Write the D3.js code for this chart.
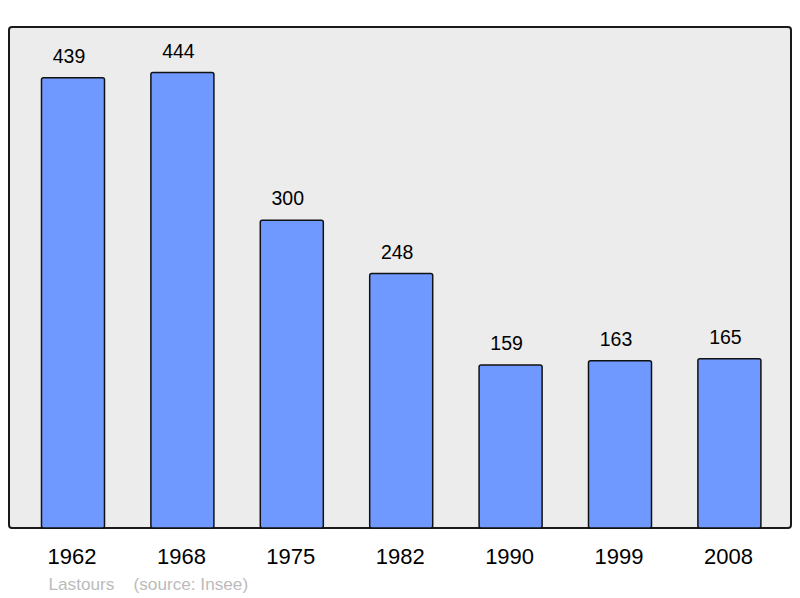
<!DOCTYPE html>
<html><head><meta charset="utf-8">
<script src="https://cdn.jsdelivr.net/npm/d3@7"></script>
<style>body{margin:0;background:#fff}svg{display:block}</style>
</head><body>
<svg id="c" width="800" height="598"></svg>
<script>
const years = ["1962","1968","1975","1982","1990","1999","2008"];
const population = [439,444,300,248,159,163,165];
const place = "Lastours";
const source = "(source: Insee)";

const svg = d3.select("#c");
const font = "'Liberation Sans', Arial, sans-serif";
const frame = {l:9, t:27, r:791, b:528};

svg.append("rect").attr("x",frame.l).attr("y",frame.t)
  .attr("width",frame.r-frame.l).attr("height",frame.b-frame.t)
  .attr("rx",3).attr("fill","#ececec").attr("stroke","#1a1a1a").attr("stroke-width",2);

const x = d3.scaleBand().domain(years).range([18.3,784.1]).paddingInner(0.424).paddingOuter(0.212);
const y = d3.scaleLinear().domain([0,488.4]).range([frame.b,frame.t]);

const data = years.map((yr,i)=>({yr, v:population[i]}));

svg.selectAll("rect.bar").data(data).join("rect").attr("class","bar")
  .attr("x",d=>x(d.yr)).attr("y",d=>y(d.v))
  .attr("width",x.bandwidth()).attr("height",d=>y(0)-y(d.v))
  .attr("rx",2).attr("fill","#7099ff").attr("stroke","#111").attr("stroke-width",1.5);

svg.selectAll("text.val").data(data).join("text").attr("class","val")
  .attr("x",d=>x(d.yr)+x.bandwidth()/2-4).attr("y",d=>y(d.v)-15)
  .attr("text-anchor","middle").attr("font-family",font).attr("font-size",19.5).attr("fill","#000")
  .text(d=>d.v);

const ax = svg.append("g").attr("transform",`translate(0,${frame.b})`)
  .call(d3.axisBottom(x).tickSize(0).tickPadding(0));
ax.select(".domain").remove();
ax.selectAll("text").attr("font-family",font).attr("font-size",22).attr("fill","#000")
  .attr("dy",null).attr("y",36).attr("dx",-1);

svg.append("text").attr("x",48.5).attr("y",590).attr("font-family",font).attr("font-size",17.2)
  .attr("fill","#bbbbbb").text(place);
svg.append("text").attr("x",133.5).attr("y",590).attr("font-family",font).attr("font-size",17.2)
  .attr("fill","#bbbbbb").text(source);
</script>
</body></html>
